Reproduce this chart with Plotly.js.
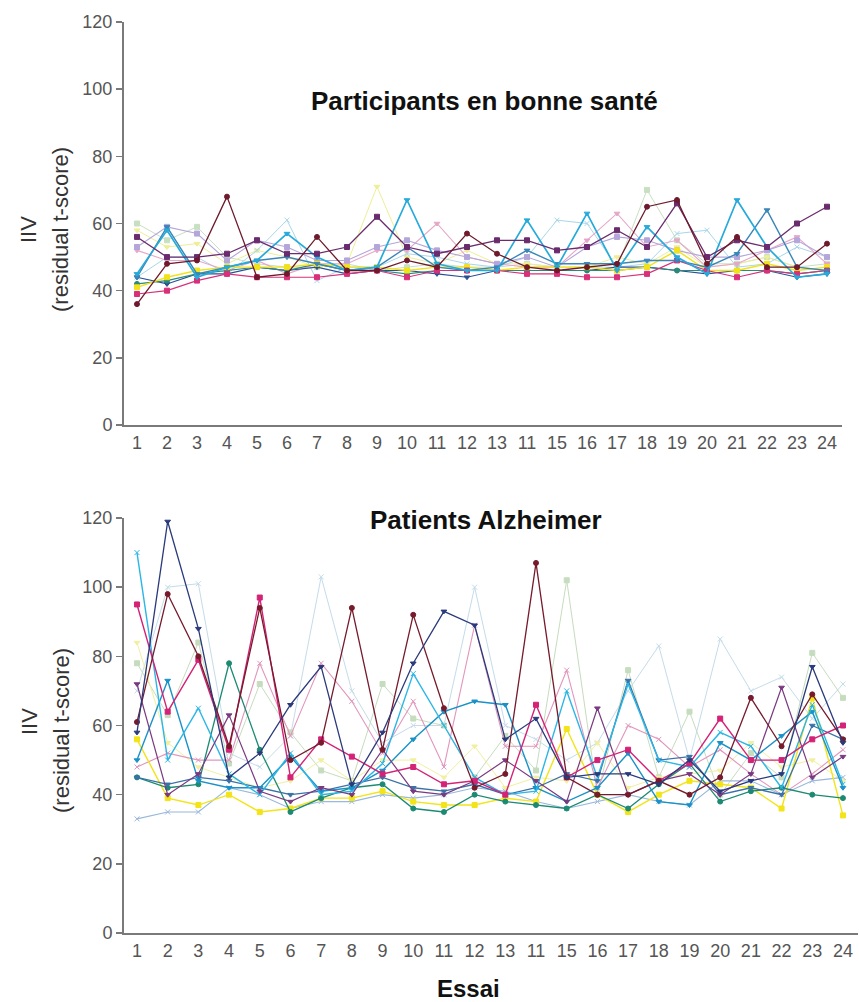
<!DOCTYPE html>
<html>
<head>
<meta charset="utf-8">
<script src="https://cdn.plot.ly/plotly-3.0.1.min.js"></script>
<style>
  html, body { margin: 0; padding: 0; background: #fff; }
  #chart { width: 859px; height: 1002px; }
</style>
</head>
<body>
<div id="chart"></div>
<script>
// Trial numbers and their printed labels
const essais = [1,2,3,4,5,6,7,8,9,10,11,12,13,14,15,16,17,18,19,20,21,22,23,24];
const essaiLabels = ["1","2","3","4","5","6","7","8","9","10","11","12","13","11","15","16","17","18","19","20","21","22","23","24"];

// Healthy participants: one row of IIV values per participant
const sainMarron   = [36,48,49,68,44,45,56,46,46,49,47,57,51,47,46,47,48,65,67,48,56,47,47,54];
const sainViolet   = [56,50,50,51,55,51,51,53,62,53,51,53,55,55,52,53,58,53,66,50,55,53,60,65];
const sainCyan     = [45,58,44,47,49,57,50,46,47,67,48,46,46,61,47,63,46,59,50,45,67,53,44,45];
const sainBleu     = [44,59,45,47,49,50,48,46,47,53,47,46,47,52,48,48,48,49,49,47,51,64,47,46];
const sainLavande  = [53,59,57,49,55,53,49,49,53,55,52,50,48,50,47,53,56,55,52,50,50,52,55,50];
const sainRose     = [52,49,49,46,49,45,48,48,52,52,60,50,48,47,47,55,63,53,55,47,48,52,56,48];
const sainCielPale = [44,50,50,45,52,61,43,47,47,51,50,48,47,50,61,60,47,48,57,58,47,48,53,50];
const sainJaunePale= [58,53,54,48,52,50,47,48,71,50,48,52,48,48,47,47,50,48,53,47,48,50,47,46];
const sainVertPale = [60,55,59,50,48,47,47,48,46,47,48,47,47,48,47,47,47,70,55,48,48,50,47,48];
const sainMagenta  = [39,40,43,45,44,44,44,45,46,44,46,46,46,45,45,44,44,45,49,46,44,46,45,46];
const sainJaune    = [41,44,46,47,47,47,48,47,47,46,47,47,46,47,47,47,46,47,52,46,46,48,46,47];
const sainVert     = [42,43,45,46,47,46,48,46,46,45,46,46,46,46,46,46,46,47,46,46,46,46,45,46];
const sainMarine   = [44,42,45,45,47,46,47,45,46,46,45,44,46,46,46,46,47,47,46,45,46,46,44,45];

// Alzheimer patients
const alzMarine    = [58,119,88,45,52,66,77,43,58,78,93,89,56,62,45,46,46,43,50,41,44,46,77,55];
const alzMarron    = [61,98,80,54,94,50,55,94,53,92,65,42,46,107,45,40,40,44,40,45,68,54,69,56];
const alzMagenta   = [95,64,79,53,97,45,56,51,46,48,43,44,40,66,45,50,53,44,49,62,50,50,56,60];
const alzCyan      = [110,50,65,46,40,52,40,41,49,75,60,45,40,41,70,45,72,50,48,58,54,42,66,43];
const alzAzur      = [50,73,44,42,42,51,41,42,47,56,64,67,66,42,38,42,52,38,37,55,50,57,64,42];
const alzVert      = [45,42,43,78,53,35,39,42,43,36,35,40,38,37,36,40,36,43,49,38,41,42,40,39];
const alzGrisBleu  = [33,35,35,42,40,36,38,38,40,39,40,42,41,38,36,38,40,38,37,44,44,40,44,45];
const alzJaune     = [56,39,37,40,35,36,39,39,41,38,37,37,39,38,59,40,35,40,44,43,42,36,68,34];
const alzCielPale  = [70,100,101,52,48,57,103,70,55,60,60,100,60,56,50,55,70,83,50,85,70,74,62,72];
const alzVertPale  = [78,63,84,49,72,58,47,44,72,62,60,45,57,47,102,40,76,45,64,40,52,45,81,68];
const alzRose      = [48,52,50,50,78,57,78,67,52,67,48,89,54,54,76,42,60,56,48,53,46,40,46,53];
const alzViolet    = [72,40,46,63,41,38,42,40,53,41,40,44,50,44,38,65,40,44,46,40,46,71,45,51];
const alzJaunePale = [84,55,48,45,42,44,50,44,50,50,45,54,42,45,44,55,42,45,46,47,55,48,50,44];
const alzAcier     = [45,43,45,44,42,40,41,43,45,42,41,43,40,42,46,44,73,50,51,40,42,40,60,56];

// Each series: values, colour, marker symbol, line width
const sainSeries = [
  [sainVertPale, '#c9dfc2', 'square', 1],
  [sainJaunePale,'#eeee96', 'triangle-down', 1],
  [sainCielPale, '#a9d6ea', 'x-thin-open', 1],
  [sainRose,     '#e6a6c8', 'triangle-down', 1.1],
  [sainLavande,  '#b4a6da', 'square', 1.1],
  [sainMarine,   '#2a4f96', 'triangle-down', 1.2],
  [sainVert,     '#2a8a78', 'circle', 1.2],
  [sainJaune,    '#f2e21c', 'square', 1.4],
  [sainMagenta,  '#d8307a', 'square', 1.2],
  [sainBleu,     '#3a86b8', 'triangle-down', 1.4],
  [sainCyan,     '#26aada', 'triangle-down', 1.7],
  [sainViolet,   '#6a2c6e', 'square', 1.3],
  [sainMarron,   '#6e1a2c', 'circle', 1.3]
];
const alzSeries = [
  [alzCielPale,  '#c4dcea', 'x-thin-open', 1],
  [alzVertPale,  '#c6dcbe', 'square', 1],
  [alzJaunePale, '#f0f0a0', 'triangle-down', 1],
  [alzRose,      '#e296bc', 'x-thin-open', 1.1],
  [alzGrisBleu,  '#98b8dc', 'x-thin-open', 1.1],
  [alzJaune,     '#f2e418', 'square', 1.4],
  [alzVert,      '#1c8a72', 'circle', 1.3],
  [alzAcier,     '#3a72a8', 'triangle-down', 1.3],
  [alzAzur,      '#1a92c8', 'triangle-down', 1.4],
  [alzCyan,      '#2cb6e6', 'x-thin-open', 1.4],
  [alzViolet,    '#7a3a82', 'triangle-down', 1.2],
  [alzMagenta,   '#d42276', 'square', 1.4],
  [alzMarron,    '#761a2c', 'circle', 1.3],
  [alzMarine,    '#2a3a7c', 'triangle-down', 1.3]
];

const traces = [];
function addTraces(list, xa, ya) {
  list.forEach(([vals, color, symbol, w]) => {
    traces.push({
      x: essais, y: vals, xaxis: xa, yaxis: ya,
      type: 'scatter', mode: 'lines+markers',
      line: { color: color, width: w },
      marker: { color: color, symbol: symbol, size: 5, line: { color: color, width: 1 } },
      showlegend: false, hoverinfo: 'skip'
    });
  });
}
addTraces(sainSeries, 'x', 'y');
addTraces(alzSeries, 'x2', 'y2');

const W = 859, H = 1002;
const fx = px => px / W;
const fy = py => 1 - py / H;

const tickFont = { family: 'Liberation Sans, Arial, sans-serif', size: 18, color: '#555' };
function xAxis(domain, range, anchor) {
  return {
    domain: domain, range: range, anchor: anchor,
    tickmode: 'array', tickvals: essais, ticktext: essaiLabels,
    ticks: '', showgrid: false, zeroline: false,
    showline: true, linecolor: '#7a7a7a', linewidth: 2,
    tickfont: tickFont, fixedrange: true
  };
}
function yAxis(domain, anchor) {
  return {
    domain: domain, range: [0, 120], anchor: anchor,
    tickmode: 'linear', tick0: 0, dtick: 20,
    ticks: 'outside', ticklen: 6, tickwidth: 1.5, tickcolor: '#7a7a7a',
    showgrid: false, zeroline: false,
    showline: true, linecolor: '#7a7a7a', linewidth: 2,
    tickfont: tickFont, fixedrange: true
  };
}

const titleFont = { family: 'Liberation Sans, Arial, sans-serif', size: 26, color: '#111' };
const yTitleFont = { family: 'Liberation Sans, Arial, sans-serif', size: 22, color: '#333' };
function ann(text, x, y, font, angle) {
  return {
    text: text, xref: 'paper', yref: 'paper', x: fx(x), y: fy(y),
    xanchor: 'center', yanchor: 'middle', showarrow: false,
    font: font, textangle: angle || 0
  };
}

const layout = {
  width: W, height: H,
  margin: { l: 0, r: 0, t: 0, b: 0 },
  paper_bgcolor: '#fff', plot_bgcolor: '#fff',
  xaxis: xAxis([fx(124), fx(842)], [0.567, 24.5], 'y'),
  yaxis: yAxis([fy(425), fy(22)], 'x'),
  xaxis2: xAxis([fx(124), fx(858)], [0.577, 24.49], 'y2'),
  yaxis2: yAxis([fy(933), fy(518)], 'x2'),
  annotations: [
    ann('<b>Participants en bonne santé</b>', 484, 101, titleFont),
    ann('<b>Patients Alzheimer</b>', 486, 520, titleFont),
    ann('<b>Essai</b>', 468, 988, { family: 'Liberation Sans, Arial, sans-serif', size: 24, color: '#111' }),
    ann('IIV', 29, 230, yTitleFont, -90),
    ann('(residual t-score)', 61, 230, yTitleFont, -90),
    ann('IIV', 29, 722, yTitleFont, -90),
    ann('(residual t-score)', 61, 731, yTitleFont, -90)
  ]
};

Plotly.newPlot('chart', traces, layout, { displayModeBar: false, staticPlot: true });
</script>
</body>
</html>
